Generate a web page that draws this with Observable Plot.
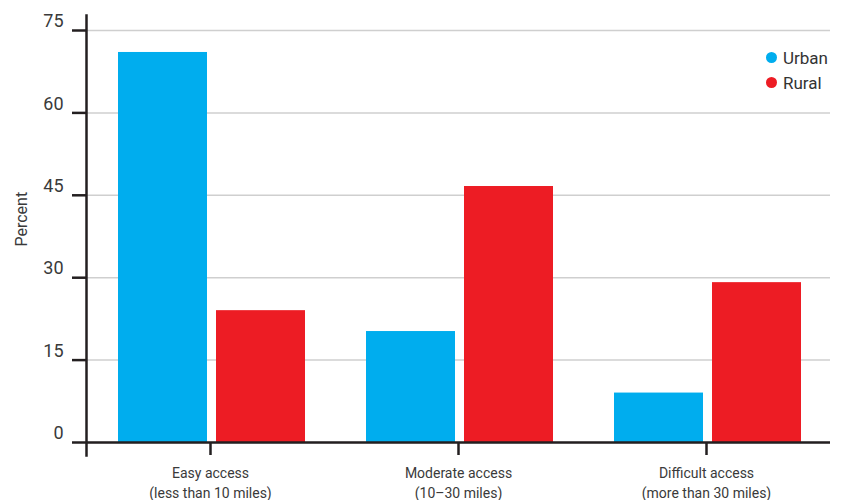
<!DOCTYPE html>
<html><head><meta charset="utf-8">
<script src="https://cdn.jsdelivr.net/npm/d3@7"></script>
<script src="https://cdn.jsdelivr.net/npm/@observablehq/plot@0.6"></script>
<style>
body{margin:0;background:#fff;font-family:Roboto,sans-serif}
#wrap{position:relative;width:843px;height:500px}
#legend{position:absolute;left:766px;top:45px;font-size:17px;color:#333}
#legend .row{display:flex;align-items:center;height:25px}
#legend .sw{display:inline-block;width:11px;height:11px;border-radius:50%;margin-right:6px}
</style></head><body><div id="wrap"><div id="legend"></div></div>
<script>
const categories = ["Easy access", "Moderate access", "Difficult access"];
const subLabels = ["(less than 10 miles)", "(10–30 miles)", "(more than 30 miles)"];
const series = ["Urban", "Rural"];
const urban = [71, 20.2, 9];
const rural = [24, 46.6, 29.1];
const yTicks = [0, 15, 30, 45, 60, 75];
const colors = ["#00adee", "#ed1c24"];

const data = categories.flatMap((c, i) => [
  {category: c, series: "Urban", value: urban[i]},
  {category: c, series: "Rural", value: rural[i]}
]);
const ink = "#231f20";
const textColor = "#3a3a3a";

const plot = Plot.plot({
  width: 843, height: 500,
  marginTop: 30, marginBottom: 58, marginLeft: 85, marginRight: 12,
  style: {fontFamily: "Roboto, sans-serif", fontSize: "14px", color: textColor, background: "#fff"},
  fx: {domain: categories, padding: 0, label: null},
  x: {domain: series, paddingInner: 0.0909, paddingOuter: 0.278, insetLeft: 4, axis: null},
  y: {domain: [0, 75]},
  color: {domain: series, range: colors},
  marks: [
    Plot.gridY(yTicks, {stroke: "#cfcfcf", strokeOpacity: 1, strokeWidth: 1.5}),
    Plot.barY(data, {fx: "category", x: "series", y: "value", fill: "series"}),
    Plot.ruleY([0], {stroke: ink, strokeWidth: 2.5}),
    Plot.frame({anchor: "left", facetAnchor: "left", stroke: ink, strokeWidth: 2.5, insetTop: -15, insetBottom: -13}),
    Plot.axisY(yTicks, {tickSize: 14, tickFormat: () => "", label: null, stroke: ink, strokeWidth: 2.5}),
    Plot.axisY(yTicks, {tickSize: 0, tickPadding: 23, fontSize: 18, dy: -9, label: null, fill: textColor}),
    Plot.text(["Percent"], {frameAnchor: "left", facetAnchor: "left", rotate: -90, dx: -65, dy: 10, fontSize: 16, fill: textColor}),
    Plot.axisFx({anchor: "bottom", tickSize: 13, tickPadding: 9, lineHeight: 1.4, fontSize: 14, stroke: ink, strokeWidth: 2.5, fill: textColor, label: null,
      tickFormat: (d) => d + "\n" + subLabels[categories.indexOf(d)]})
  ]
});
const wrap = document.getElementById("wrap");
wrap.insertBefore(plot, wrap.firstChild);

const legend = document.getElementById("legend");
series.forEach((s, i) => {
  const row = document.createElement("div");
  row.className = "row";
  row.innerHTML = `<span class="sw" style="background:${colors[i]}"></span><span>${s}</span>`;
  legend.appendChild(row);
});
</script>
</body></html>
